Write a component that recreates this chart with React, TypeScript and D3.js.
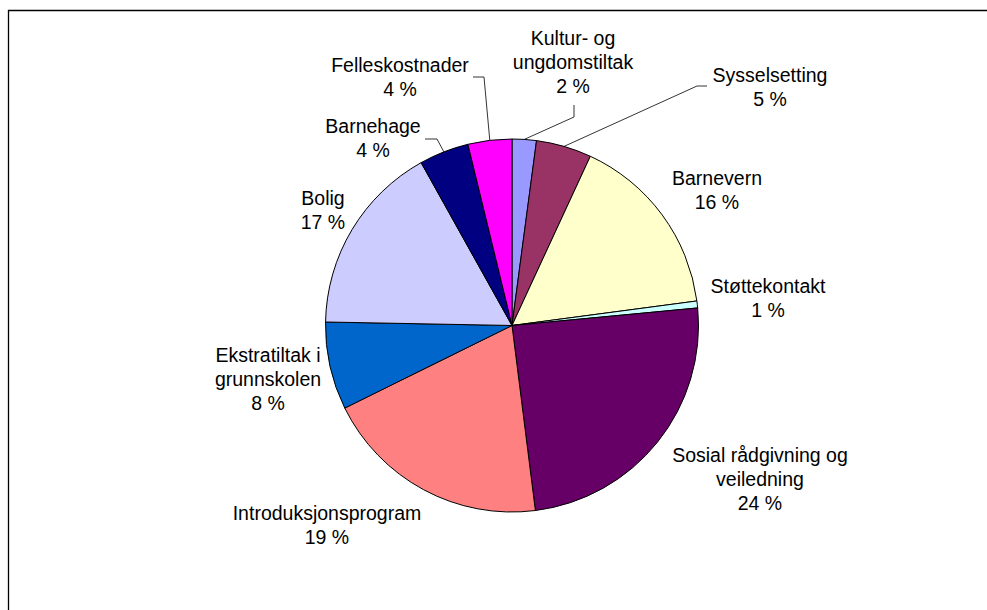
import React from "react";
import * as d3 from "d3";

// shares in percent, clockwise from 12 o'clock
const categories = [
  "Kultur- og ungdomstiltak",
  "Sysselsetting",
  "Barnevern",
  "Støttekontakt",
  "Sosial rådgivning og veiledning",
  "Introduksjonsprogram",
  "Ekstratiltak i grunnskolen",
  "Bolig",
  "Barnehage",
  "Felleskostnader",
];
const values = [2.1, 4.8, 16.0, 0.6, 24.5, 19.7, 7.6, 16.6, 4.3, 3.8];
const percentLabels = ["2 %", "5 %", "16 %", "1 %", "24 %", "19 %", "8 %", "17 %", "4 %", "4 %"];
const labelLines = [
  ["Kultur- og", "ungdomstiltak"],
  ["Sysselsetting"],
  ["Barnevern"],
  ["Støttekontakt"],
  ["Sosial rådgivning og", "veiledning"],
  ["Introduksjonsprogram"],
  ["Ekstratiltak i", "grunnskolen"],
  ["Bolig"],
  ["Barnehage"],
  ["Felleskostnader"],
];
const colors = [
  "#9999FF", "#993366", "#FFFFCC", "#CCFFFF", "#660066",
  "#FF8080", "#0066CC", "#CCCCFF", "#000080", "#FF00FF",
];

// label placement: center x, first baseline, optional leader elbow
const labelPos: { x: number; y: number; elbow?: [number, number][] }[] = [
  { x: 573, y: 45, elbow: [[574, 105], [574, 117]] },
  { x: 770, y: 82, elbow: [[707, 86], [697, 86]] },
  { x: 717, y: 185 },
  { x: 768, y: 293 },
  { x: 760, y: 462 },
  { x: 327, y: 520 },
  { x: 268, y: 362 },
  { x: 323, y: 205 },
  { x: 373, y: 133, elbow: [[425, 139], [437, 139]] },
  { x: 400, y: 72, elbow: [[473, 77], [484, 77]] },
];

const W = 987;
const H = 610;
const cx = 512;
const cy = 325.5;
const radius = 186.5;
const lineH = 24;

export default function App() {
  const data = categories.map((c, i) => ({ name: c, value: values[i] }));
  const pie = d3.pie<{ name: string; value: number }>().sort(null).value((d) => d.value);
  const arcs = pie(data);
  const arc = d3.arc<d3.PieArcDatum<{ name: string; value: number }>>().innerRadius(0).outerRadius(radius);

  return (
    <svg
      width={W}
      height={H}
      style={{ position: "absolute", left: 0, top: 0, display: "block", background: "#fff" }}
      fontFamily="'Liberation Sans', Arial, sans-serif"
    >
      <path d={`M8.5,${H} V10.5 H${W}`} fill="none" stroke="#000" strokeWidth={1.3} />
      <g transform={`translate(${cx},${cy})`}>
        {arcs.map((a, i) => (
          <path key={i} d={arc(a) || ""} fill={colors[i]} stroke="#000" strokeWidth={1} />
        ))}
      </g>
      {arcs.map((a, i) => {
        const p = labelPos[i];
        if (!p.elbow) return null;
        const mid = (a.startAngle + a.endAngle) / 2;
        const ex = cx + radius * Math.sin(mid);
        const ey = cy - radius * Math.cos(mid);
        const pts = [...p.elbow, [ex, ey]];
        return (
          <polyline
            key={"l" + i}
            points={pts.map((q) => q.join(",")).join(" ")}
            fill="none"
            stroke="#000"
            strokeWidth={0.8}
          />
        );
      })}
      {labelLines.map((lines, i) => {
        const p = labelPos[i];
        const all = [...lines, percentLabels[i]];
        return (
          <text key={"t" + i} textAnchor="middle" fontSize={19.5} fill="#000">
            {all.map((s, j) => (
              <tspan key={j} x={p.x} y={p.y + j * lineH}>
                {s}
              </tspan>
            ))}
          </text>
        );
      })}
    </svg>
  );
}
